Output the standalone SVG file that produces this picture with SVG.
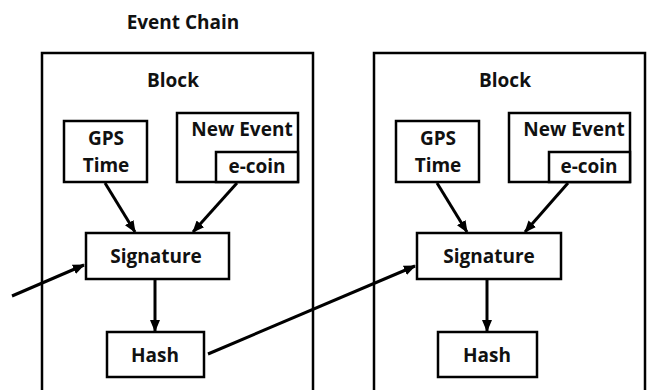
<svg xmlns="http://www.w3.org/2000/svg" width="648" height="390" viewBox="0 0 648 390">
<style>
.box{fill:#fff;stroke:#000;stroke-width:2.5}
.blk{fill:none;stroke:#000;stroke-width:2.5}
.t{font-family:"Open Sans","Liberation Sans",Arial,sans-serif;font-weight:bold;font-size:19px;text-anchor:middle;fill:#111}
.c{stroke:#000;stroke-width:3;fill:none;marker-end:url(#ah)}
</style>
<defs>
<marker id="ah" markerUnits="userSpaceOnUse" markerWidth="12" markerHeight="10" refX="11" refY="5" orient="auto">
<path d="M0,0 L12,5 L0,10 Z" fill="#000"/>
</marker>
</defs>
<rect width="648" height="390" fill="#fff"/>
<text class="t" x="183" y="29">Event Chain</text>
<g id="block1">
<rect class="blk" x="42" y="53" width="271" height="360"/>
<text class="t" x="173" y="87">Block</text>
</g>
<g id="block2">
<rect class="blk" x="374" y="53" width="271" height="360"/>
<text class="t" x="505" y="87">Block</text>
</g>
<g id="gps1">
<rect class="box" x="64" y="121" width="83" height="61"/>
<text class="t" x="106" y="145">GPS</text>
<text class="t" x="106" y="172">Time</text>
</g>
<g id="event1">
<rect class="box" x="177" y="113" width="121" height="69"/>
<text class="t" x="242" y="136">New Event</text>
</g>
<g id="ecoin1">
<rect class="box" x="216" y="152" width="82" height="30"/>
<text class="t" x="257" y="173">e-coin</text>
</g>
<g id="sig1">
<rect class="box" x="86" y="233" width="143" height="46"/>
<text class="t" x="156" y="263">Signature</text>
</g>
<g id="hash1">
<rect class="box" x="107" y="332" width="97" height="45"/>
<text class="t" x="155" y="362">Hash</text>
</g>
<g id="gps2">
<rect class="box" x="396" y="121" width="83" height="61"/>
<text class="t" x="438" y="145">GPS</text>
<text class="t" x="438" y="172">Time</text>
</g>
<g id="event2">
<rect class="box" x="509" y="113" width="121" height="69"/>
<text class="t" x="574" y="136">New Event</text>
</g>
<g id="ecoin2">
<rect class="box" x="549" y="152" width="81" height="30"/>
<text class="t" x="589" y="173">e-coin</text>
</g>
<g id="sig2">
<rect class="box" x="417" y="233" width="144" height="46"/>
<text class="t" x="489" y="263">Signature</text>
</g>
<g id="hash2">
<rect class="box" x="438" y="332" width="99" height="45"/>
<text class="t" x="487" y="362">Hash</text>
</g>
<g id="connectors">
<line class="c" x1="105" y1="183" x2="135" y2="232"/>
<line class="c" x1="237" y1="183" x2="193" y2="232"/>
<line class="c" x1="155" y1="280" x2="155" y2="331"/>
<line class="c" x1="12" y1="296" x2="84" y2="265"/>
<line class="c" x1="208" y1="354" x2="415" y2="266"/>
<line class="c" x1="437" y1="183" x2="467" y2="232"/>
<line class="c" x1="568" y1="183" x2="525" y2="232"/>
<line class="c" x1="487" y1="280" x2="487" y2="331"/>
</g>
</svg>
